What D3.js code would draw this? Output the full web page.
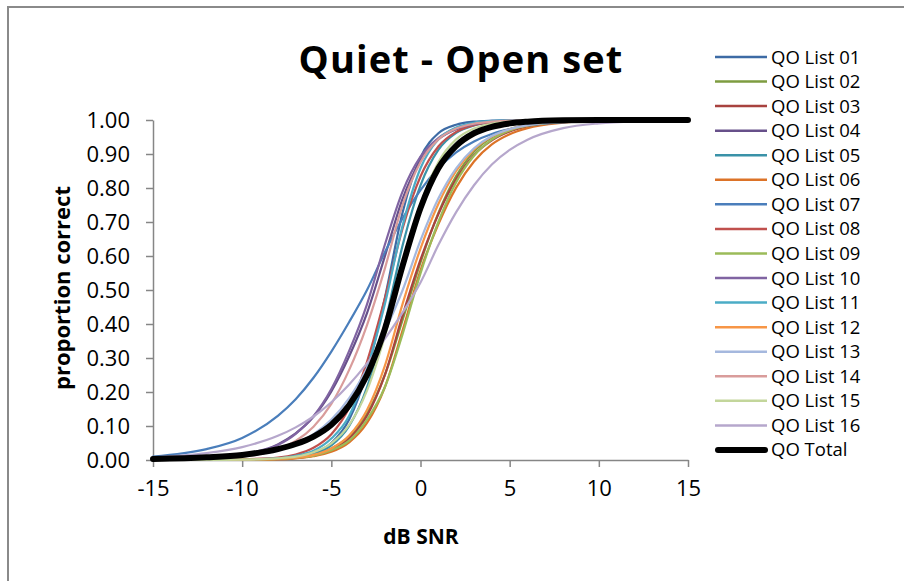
<!doctype html>
<html lang="en">
<head>
  <meta charset="utf-8">
  <title>Quiet - Open set</title>
  <script src="https://cdnjs.cloudflare.com/ajax/libs/d3/7.8.5/d3.min.js"></script>
  <style>
    body { margin: 0; background: #fff; }
    svg { display: block; font-family: "Open Sans", sans-serif; }
    .axis path, .axis line { stroke: #868686; stroke-width: 1.5px; }
    .axis text { fill: #000; font-size: 22px; font-family: "Open Sans", sans-serif; }
  </style>
</head>
<body>
<svg id="chart" width="904" height="581"></svg>
<script>
// dB SNR sample points shared by every curve
var snr = [-15, -12, -10, -8, -7, -6, -5, -4, -3, -2, -1, 0, 1, 2, 3, 4, 5, 6, 8, 10, 12, 15];

var list01 = [0.000,0.000,0.001,0.003,0.008,0.020,0.050,0.119,0.260,0.476,0.729,0.890,0.961,0.986,0.995,0.998,0.999,1.000,1.000,1.000,1.000,1.000];
var list02 = [0.000,0.000,0.001,0.004,0.008,0.016,0.034,0.069,0.136,0.250,0.413,0.581,0.726,0.835,0.907,0.949,0.973,0.986,0.996,0.999,1.000,1.000];
var list03 = [0.000,0.000,0.001,0.003,0.006,0.013,0.029,0.063,0.130,0.250,0.426,0.589,0.723,0.826,0.897,0.940,0.966,0.981,0.994,0.998,0.999,1.000];
var list04 = [0.001,0.005,0.016,0.046,0.078,0.127,0.202,0.305,0.432,0.599,0.769,0.881,0.943,0.973,0.988,0.994,0.998,0.999,1.000,1.000,1.000,1.000];
var list05 = [0.000,0.000,0.001,0.003,0.007,0.018,0.043,0.100,0.214,0.401,0.632,0.808,0.912,0.962,0.984,0.994,0.997,0.999,1.000,1.000,1.000,1.000];
var list06 = [0.000,0.000,0.001,0.002,0.005,0.011,0.024,0.052,0.109,0.214,0.382,0.558,0.693,0.801,0.878,0.928,0.958,0.976,0.992,0.998,0.999,1.000];
var list07 = [0.010,0.032,0.065,0.130,0.179,0.242,0.319,0.406,0.500,0.611,0.711,0.794,0.858,0.905,0.937,0.959,0.973,0.983,0.993,0.997,0.999,1.000];
var list08 = [0.000,0.000,0.002,0.007,0.016,0.036,0.076,0.154,0.289,0.475,0.682,0.834,0.922,0.965,0.985,0.993,0.997,0.999,1.000,1.000,1.000,1.000];
var list09 = [0.000,0.000,0.001,0.003,0.007,0.013,0.029,0.057,0.119,0.214,0.371,0.549,0.700,0.817,0.895,0.942,0.969,0.984,0.995,0.999,1.000,1.000];
var list10 = [0.001,0.005,0.014,0.044,0.077,0.129,0.209,0.321,0.458,0.633,0.790,0.892,0.947,0.975,0.988,0.995,0.998,0.999,1.000,1.000,1.000,1.000];
var list11 = [0.000,0.000,0.001,0.005,0.012,0.027,0.063,0.130,0.269,0.458,0.690,0.858,0.943,0.978,0.992,0.997,0.999,1.000,1.000,1.000,1.000,1.000];
var list12 = [0.000,0.000,0.001,0.003,0.007,0.015,0.034,0.072,0.147,0.277,0.460,0.622,0.753,0.850,0.913,0.951,0.973,0.985,0.996,0.999,1.000,1.000];
var list13 = [0.001,0.004,0.011,0.029,0.047,0.076,0.119,0.182,0.269,0.378,0.500,0.646,0.769,0.858,0.917,0.953,0.973,0.985,0.995,0.999,1.000,1.000];
var list14 = [0.001,0.003,0.010,0.032,0.056,0.098,0.165,0.265,0.397,0.563,0.751,0.876,0.943,0.975,0.989,0.995,0.998,0.999,1.000,1.000,1.000,1.000];
var list15 = [0.000,0.000,0.001,0.005,0.010,0.023,0.049,0.103,0.204,0.364,0.563,0.751,0.876,0.943,0.975,0.989,0.995,0.998,1.000,1.000,1.000,1.000];
var list16 = [0.008,0.020,0.038,0.071,0.096,0.128,0.170,0.222,0.284,0.356,0.434,0.522,0.632,0.729,0.808,0.869,0.912,0.942,0.976,0.990,0.996,0.999];
var total  = [0.003,0.008,0.015,0.032,0.047,0.069,0.104,0.161,0.250,0.385,0.572,0.741,0.858,0.924,0.961,0.980,0.990,0.995,0.999,1.000,1.000,1.000];

var seriesNames = ["QO List 01","QO List 02","QO List 03","QO List 04","QO List 05","QO List 06","QO List 07","QO List 08",
                   "QO List 09","QO List 10","QO List 11","QO List 12","QO List 13","QO List 14","QO List 15","QO List 16","QO Total"];
var seriesValues = [list01,list02,list03,list04,list05,list06,list07,list08,list09,list10,list11,list12,list13,list14,list15,list16,total];
var xTicks = [-15, -10, -5, 0, 5, 10, 15];
var yTicks = [0, 0.1, 0.2, 0.3, 0.4, 0.5, 0.6, 0.7, 0.8, 0.9, 1.0];

// excel 2007 style line colours
var colors = ["#3d6ba5","#7e9c40","#a8423f","#67508a","#3a92a8","#dc7328","#4a7ebb","#c0504d",
              "#9bbb59","#8064a2","#4bacc6","#f79646","#a5b8de","#d99c9b","#c3d69b","#b6a7cc","#000000"];

var svg = d3.select("#chart");

// outer frame (only top and left edges fall inside the picture)
svg.append("rect")
  .attr("x", 8).attr("y", 7).attr("width", 1000).attr("height", 1000)
  .attr("fill", "#fff").attr("stroke", "#8a8a8a").attr("stroke-width", 2);

var x = d3.scaleLinear().domain([-15, 15]).range([153, 688]);
var y = d3.scaleLinear().domain([0, 1]).range([460, 120]);

svg.append("g")
  .attr("class", "axis")
  .attr("transform", "translate(153,0)")
  .call(d3.axisLeft(y).tickValues(yTicks).tickFormat(d3.format(".2f")).tickSize(7).tickSizeOuter(0).tickPadding(16));

svg.append("g")
  .attr("class", "axis")
  .attr("transform", "translate(0,460)")
  .call(d3.axisBottom(x).tickValues(xTicks).tickFormat(function(d) { return String(d); }).tickSize(7).tickSizeOuter(0).tickPadding(13));

var line = d3.line()
  .x(function(d, i) { return x(snr[i]); })
  .y(function(d) { return y(d); })
  .curve(d3.curveMonotoneX);

seriesValues.forEach(function(vals, k) {
  var isTotal = k === seriesValues.length - 1;
  svg.append("path")
    .attr("d", line(vals))
    .attr("fill", "none")
    .attr("stroke", colors[k])
    .attr("stroke-width", isTotal ? 6 : 2.2)
    .attr("stroke-linejoin", "round")
    .attr("stroke-linecap", "round");
});

// titles
svg.append("text")
  .attr("x", 461).attr("y", 73)
  .attr("text-anchor", "middle")
  .attr("font-size", 38).attr("font-weight", "bold")
  .attr("letter-spacing", 1.1)
  .text("Quiet - Open set");

svg.append("text")
  .attr("transform", "translate(70,288) rotate(-90)")
  .attr("text-anchor", "middle")
  .attr("font-size", 22).attr("font-weight", "bold")
  .text("proportion correct");

svg.append("text")
  .attr("x", 421).attr("y", 544)
  .attr("text-anchor", "middle")
  .attr("font-size", 21).attr("font-weight", "bold")
  .text("dB SNR");

// legend
var legend = svg.append("g");
seriesNames.forEach(function(name, k) {
  var ry = 57 + k * 24.56;
  var isTotal = k === seriesNames.length - 1;
  legend.append("line")
    .attr("x1", isTotal ? 718 : 715).attr("x2", isTotal ? 765 : 767)
    .attr("y1", ry).attr("y2", ry)
    .attr("stroke", colors[k])
    .attr("stroke-width", isTotal ? 6 : 2.5)
    .attr("stroke-linecap", isTotal ? "round" : "butt");
  legend.append("text")
    .attr("x", 771).attr("y", ry + 6.5)
    .attr("font-size", 18.5)
    .text(name);
});
</script>
</body>
</html>
